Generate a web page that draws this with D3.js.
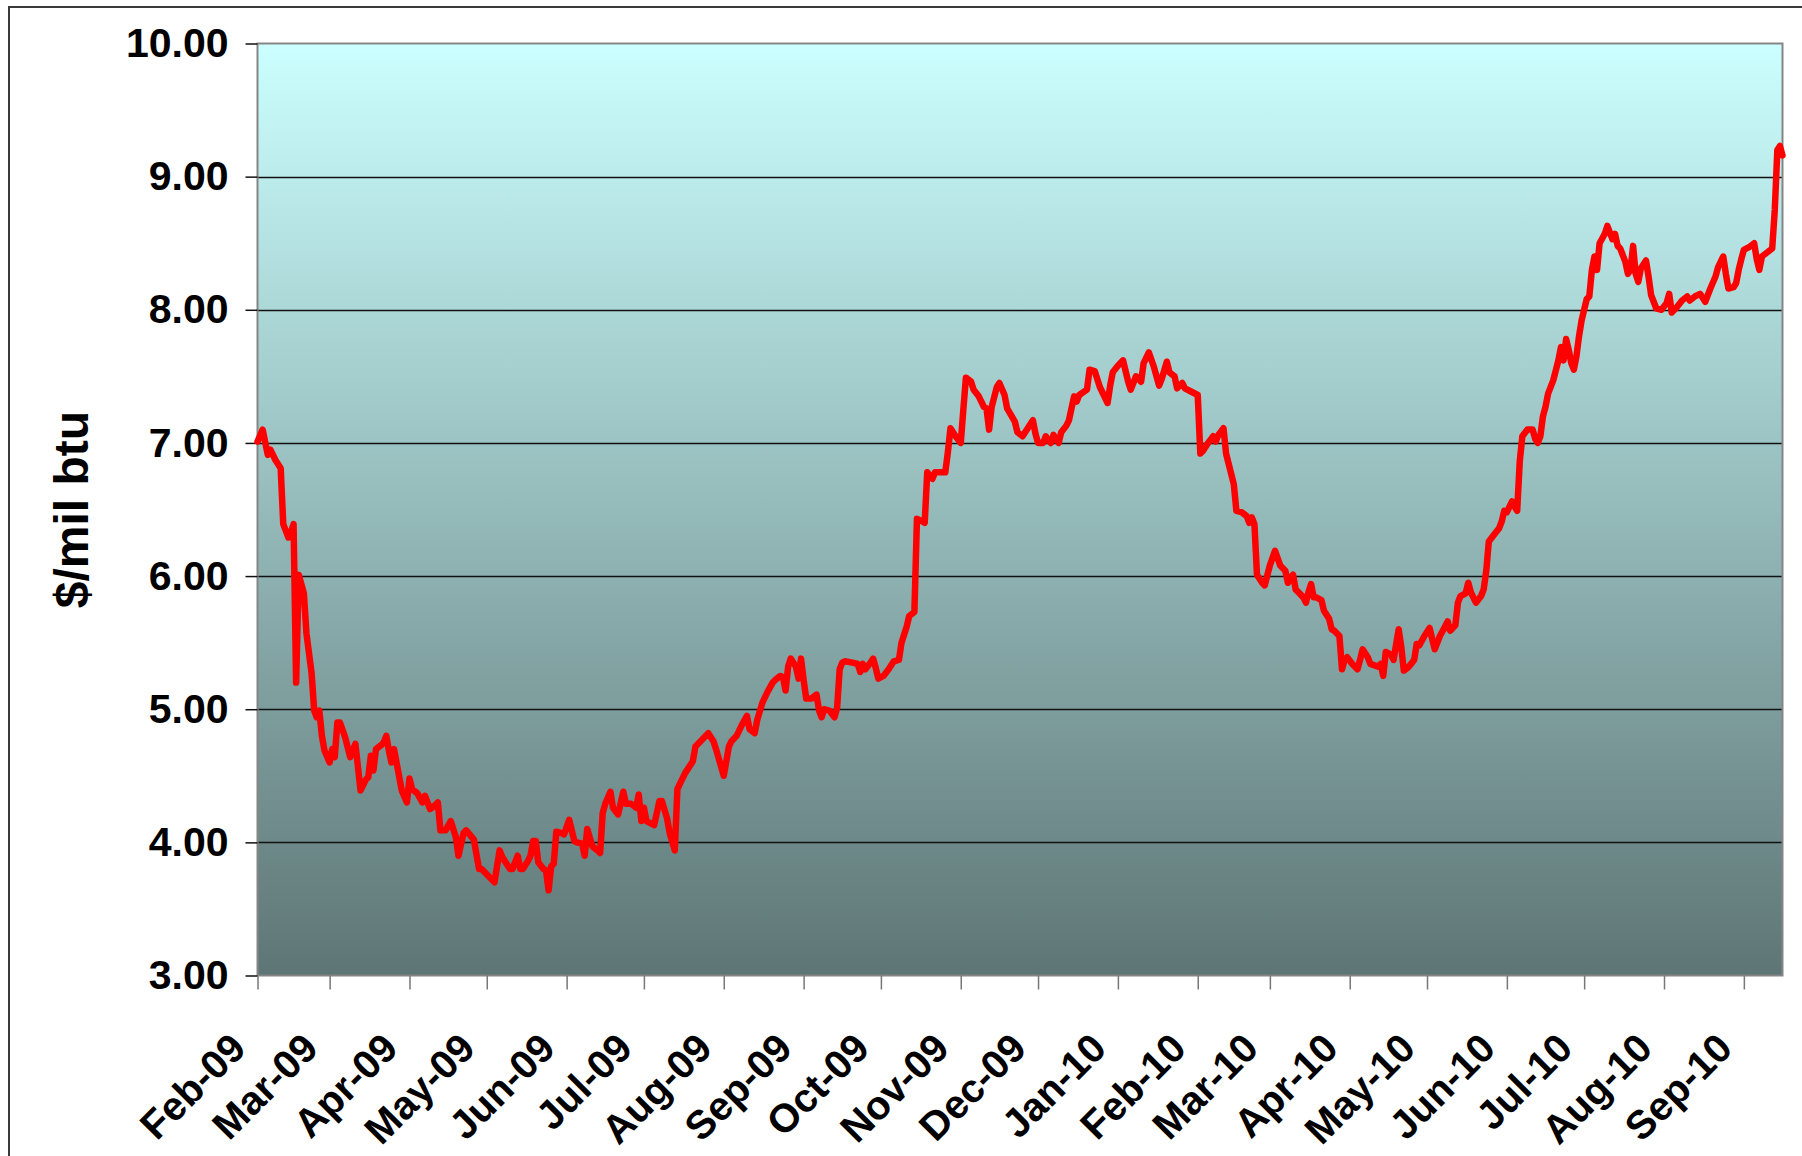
<!DOCTYPE html>
<html>
<head>
<meta charset="utf-8">
<script src="https://cdn.jsdelivr.net/npm/d3@7"></script>
<style>
  html, body { margin: 0; padding: 0; background: #ffffff; }
  svg { display: block; }
  text { font-family: "Liberation Sans", Arial, Helvetica, sans-serif; font-weight: bold; fill: #000; }
</style>
</head>
<body>
<svg id="chart" width="1802" height="1156"></svg>
<script>
// Daily price, $/mil btu
const priceDates = [
  "2009-02-01","2009-02-03","2009-02-05","2009-02-06","2009-02-08","2009-02-10","2009-02-11","2009-02-13","2009-02-14","2009-02-15",
  "2009-02-16","2009-02-17","2009-02-19","2009-02-20","2009-02-22","2009-02-23","2009-02-24","2009-02-25","2009-02-26","2009-02-27",
  "2009-03-01","2009-03-02","2009-03-03","2009-03-04","2009-03-05","2009-03-07","2009-03-09","2009-03-11","2009-03-13","2009-03-15",
  "2009-03-16","2009-03-17","2009-03-18","2009-03-19","2009-03-21","2009-03-22","2009-03-23","2009-03-24","2009-03-25","2009-03-26",
  "2009-03-29","2009-03-31","2009-04-01","2009-04-02","2009-04-04","2009-04-06","2009-04-07","2009-04-09","2009-04-11","2009-04-12",
  "2009-04-13","2009-04-15","2009-04-17","2009-04-19","2009-04-20","2009-04-22","2009-04-23","2009-04-26","2009-04-28","2009-04-29",
  "2009-05-02","2009-05-04","2009-05-06","2009-05-07","2009-05-10","2009-05-11","2009-05-13","2009-05-14","2009-05-15","2009-05-17",
  "2009-05-18","2009-05-19","2009-05-20","2009-05-21","2009-05-23","2009-05-24","2009-05-25","2009-05-26","2009-05-27","2009-05-28",
  "2009-05-30","2009-05-31","2009-06-02","2009-06-04","2009-06-05","2009-06-07","2009-06-08","2009-06-09","2009-06-11","2009-06-13",
  "2009-06-14","2009-06-15","2009-06-16","2009-06-18","2009-06-19","2009-06-21","2009-06-23","2009-06-24","2009-06-26","2009-06-28",
  "2009-06-29","2009-06-30","2009-07-01","2009-07-02","2009-07-05","2009-07-06","2009-07-07","2009-07-08","2009-07-10","2009-07-11",
  "2009-07-13","2009-07-14","2009-07-16","2009-07-17","2009-07-20","2009-07-21","2009-07-23","2009-07-24","2009-07-26","2009-07-28",
  "2009-07-29","2009-08-01","2009-08-03","2009-08-04","2009-08-06","2009-08-08","2009-08-10","2009-08-11","2009-08-13","2009-08-14",
  "2009-08-16","2009-08-18","2009-08-20","2009-08-21","2009-08-23","2009-08-24","2009-08-25","2009-08-26","2009-08-27","2009-08-29",
  "2009-08-30","2009-08-31","2009-09-01","2009-09-02","2009-09-04","2009-09-06","2009-09-07","2009-09-08","2009-09-09","2009-09-11",
  "2009-09-13","2009-09-14","2009-09-15","2009-09-16","2009-09-17","2009-09-20","2009-09-22","2009-09-23","2009-09-24","2009-09-25",
  "2009-09-27","2009-09-28","2009-09-29","2009-09-30","2009-10-02","2009-10-04","2009-10-06","2009-10-08","2009-10-09","2009-10-11",
  "2009-10-12","2009-10-14","2009-10-15","2009-10-17","2009-10-18","2009-10-19","2009-10-21","2009-10-22","2009-10-26","2009-10-27",
  "2009-10-28","2009-10-30","2009-11-01","2009-11-02","2009-11-03","2009-11-05","2009-11-06","2009-11-08","2009-11-10","2009-11-11",
  "2009-11-12","2009-11-13","2009-11-15","2009-11-16","2009-11-18","2009-11-19","2009-11-22","2009-11-23","2009-11-25","2009-11-27",
  "2009-11-29","2009-11-30","2009-12-01","2009-12-03","2009-12-04","2009-12-05","2009-12-06","2009-12-07","2009-12-09","2009-12-10",
  "2009-12-12","2009-12-13","2009-12-15","2009-12-16","2009-12-17","2009-12-20","2009-12-21","2009-12-23","2009-12-25","2009-12-28",
  "2009-12-29","2009-12-30","2010-01-01","2010-01-03","2010-01-05","2010-01-06","2010-01-08","2010-01-10","2010-01-11","2010-01-13",
  "2010-01-15","2010-01-17","2010-01-18","2010-01-20","2010-01-21","2010-01-23","2010-01-24","2010-01-26","2010-01-27","2010-01-29",
  "2010-02-01","2010-02-02","2010-02-03","2010-02-05","2010-02-07","2010-02-08","2010-02-09","2010-02-11","2010-02-12","2010-02-15",
  "2010-02-16","2010-02-18","2010-02-20","2010-02-21","2010-02-22","2010-02-23","2010-02-24","2010-02-26","2010-02-27","2010-03-01",
  "2010-03-03","2010-03-05","2010-03-07","2010-03-08","2010-03-09","2010-03-10","2010-03-11","2010-03-12","2010-03-14","2010-03-15",
  "2010-03-16","2010-03-17","2010-03-18","2010-03-19","2010-03-21","2010-03-22","2010-03-24","2010-03-25","2010-03-26","2010-03-28",
  "2010-03-29","2010-03-30","2010-03-31","2010-04-02","2010-04-04","2010-04-05","2010-04-06","2010-04-08","2010-04-09","2010-04-12",
  "2010-04-13","2010-04-14","2010-04-15","2010-04-17","2010-04-18","2010-04-20","2010-04-21","2010-04-22","2010-04-24","2010-04-26",
  "2010-04-27","2010-04-28","2010-04-30","2010-05-02","2010-05-03","2010-05-04","2010-05-06","2010-05-08","2010-05-09","2010-05-10",
  "2010-05-12","2010-05-13","2010-05-14","2010-05-16","2010-05-17","2010-05-18","2010-05-20","2010-05-22","2010-05-23","2010-05-24",
  "2010-05-25","2010-05-27","2010-05-29","2010-05-30","2010-05-31","2010-06-01","2010-06-03","2010-06-04","2010-06-05","2010-06-06",
  "2010-06-07","2010-06-09","2010-06-11","2010-06-12","2010-06-13","2010-06-14","2010-06-15","2010-06-16","2010-06-17","2010-06-19",
  "2010-06-21","2010-06-22","2010-06-23","2010-06-24","2010-06-25","2010-06-26","2010-06-27","2010-06-28","2010-06-29","2010-06-30",
  "2010-07-01","2010-07-02","2010-07-03","2010-07-04","2010-07-05","2010-07-06","2010-07-07","2010-07-09","2010-07-10","2010-07-12",
  "2010-07-13","2010-07-14","2010-07-15","2010-07-17","2010-07-18","2010-07-19","2010-07-20","2010-07-21","2010-07-22","2010-07-23",
  "2010-07-25","2010-07-26","2010-07-27","2010-07-28","2010-07-29","2010-07-31","2010-08-02","2010-08-03","2010-08-04","2010-08-06",
  "2010-08-08","2010-08-10","2010-08-11","2010-08-13","2010-08-15","2010-08-17","2010-08-19","2010-08-21","2010-08-22","2010-08-24",
  "2010-08-25","2010-08-26","2010-08-28","2010-08-29","2010-08-30","2010-08-31","2010-09-01","2010-09-03","2010-09-05","2010-09-06",
  "2010-09-07","2010-09-08","2010-09-10","2010-09-12","2010-09-13","2010-09-14","2010-09-15","2010-09-16"
];
const prices = [
  7.01,7.10,6.91,6.95,6.87,6.81,6.39,6.29,6.33,6.39,
  5.20,6.01,5.87,5.57,5.27,4.99,4.94,4.99,4.80,4.69,
  4.60,4.70,4.64,4.90,4.90,4.79,4.64,4.74,4.39,4.47,
  4.49,4.65,4.54,4.70,4.73,4.75,4.80,4.69,4.60,4.70,
  4.39,4.30,4.48,4.40,4.37,4.30,4.35,4.25,4.28,4.30,
  4.09,4.09,4.16,4.04,3.90,4.07,4.09,4.02,3.80,3.80,
  3.74,3.70,3.94,3.89,3.80,3.80,3.90,3.80,3.80,3.86,
  3.90,4.01,4.01,3.85,3.80,3.79,3.64,3.82,3.84,4.08,
  4.07,4.06,4.17,4.01,4.00,3.99,3.90,4.10,3.97,3.94,
  3.92,4.22,4.29,4.38,4.26,4.21,4.38,4.29,4.29,4.26,
  4.36,4.16,4.26,4.16,4.13,4.22,4.31,4.31,4.18,4.07,
  3.94,4.40,4.48,4.52,4.61,4.72,4.76,4.78,4.82,4.76,
  4.70,4.50,4.72,4.76,4.80,4.88,4.95,4.85,4.82,4.92,
  5.05,5.13,5.20,5.22,5.25,5.24,5.14,5.32,5.38,5.32,
  5.23,5.38,5.22,5.08,5.08,5.11,4.99,4.94,5.00,4.99,
  4.94,5.01,5.30,5.35,5.36,5.35,5.34,5.28,5.34,5.30,
  5.35,5.38,5.31,5.23,5.25,5.30,5.36,5.37,5.50,5.62,
  5.70,5.73,6.43,6.41,6.40,6.78,6.73,6.78,6.78,6.93,
  7.11,7.05,7.00,7.25,7.49,7.46,7.40,7.35,7.27,7.26,
  7.10,7.27,7.42,7.45,7.36,7.26,7.16,7.08,7.05,7.11,
  7.17,7.07,7.00,7.00,7.05,7.02,7.00,7.06,7.00,7.08,
  7.13,7.17,7.35,7.31,7.36,7.40,7.55,7.54,7.42,7.30,
  7.43,7.53,7.58,7.62,7.46,7.40,7.50,7.46,7.60,7.68,
  7.57,7.43,7.48,7.61,7.53,7.50,7.41,7.45,7.41,7.39,
  7.36,6.92,6.94,7.00,7.05,7.01,7.06,7.11,6.92,6.69,
  6.49,6.48,6.45,6.40,6.44,6.39,6.01,5.95,5.93,6.08,
  6.19,6.08,6.04,5.95,5.99,6.01,5.90,5.88,5.84,5.80,
  5.88,5.94,5.84,5.84,5.82,5.74,5.68,5.60,5.59,5.55,
  5.30,5.37,5.39,5.34,5.30,5.37,5.45,5.39,5.34,5.32,
  5.34,5.25,5.43,5.41,5.37,5.60,5.47,5.29,5.32,5.37,
  5.49,5.48,5.55,5.61,5.53,5.45,5.55,5.62,5.66,5.59,
  5.63,5.80,5.85,5.87,5.95,5.88,5.80,5.85,5.90,6.04,
  6.26,6.31,6.36,6.41,6.49,6.48,6.56,6.52,6.49,6.86,
  7.05,7.10,7.10,7.03,7.00,7.05,7.20,7.27,7.37,7.47,
  7.62,7.72,7.62,7.78,7.70,7.60,7.55,7.65,7.80,7.92,
  8.00,8.08,8.10,8.30,8.40,8.30,8.50,8.57,8.63,8.53,
  8.57,8.48,8.46,8.36,8.27,8.30,8.48,8.27,8.21,8.31,
  8.37,8.25,8.11,8.06,8.01,8.00,8.05,8.12,7.98,8.02,
  8.07,8.10,8.07,8.10,8.12,8.06,8.16,8.25,8.32,8.40,
  8.27,8.16,8.17,8.20,8.30,8.38,8.45,8.47,8.50,8.38,
  8.30,8.40,8.43,8.46,8.75,9.20,9.23,9.16
];
const axisStart = "2009-02-01";
const axisEnd = "2010-09-16";
const yTickValues = [3, 4, 5, 6, 7, 8, 9, 10];
const yAxisTitle = "$/mil btu";

const parse = d3.utcParse("%Y-%m-%d");
const series = priceDates.map((d, i) => ({ date: parse(d), value: prices[i] }));

const svg = d3.select("#chart");
const plot = { left: 257.5, right: 1782.5, top: 43.5, bottom: 975.5 };

const x = d3.scaleUtc()
  .domain([parse(axisStart), parse(axisEnd)])
  .range([plot.left, plot.right]);
const y = d3.scaleLinear()
  .domain([d3.min(yTickValues), d3.max(yTickValues)])
  .range([plot.bottom, plot.top]);

// Outer chart frame
svg.append("rect")
  .attr("x", 9).attr("y", 7)
  .attr("width", 1830).attr("height", 1180)
  .attr("fill", "none")
  .attr("stroke", "#3a3a3a")
  .attr("stroke-width", 2);

// Plot-area background gradient
const defs = svg.append("defs");
const grad = defs.append("linearGradient")
  .attr("id", "plotFill")
  .attr("x1", 0).attr("y1", 0).attr("x2", 0).attr("y2", 1);
grad.append("stop").attr("offset", "0%").attr("stop-color", "#ccffff");
grad.append("stop").attr("offset", "100%").attr("stop-color", "#5e7575");

svg.append("rect")
  .attr("x", plot.left).attr("y", plot.top)
  .attr("width", plot.right - plot.left)
  .attr("height", plot.bottom - plot.top)
  .attr("fill", "url(#plotFill)");

// Horizontal gridlines
svg.append("g")
  .selectAll("line")
  .data(yTickValues.filter(v => v > y.domain()[0] && v < y.domain()[1]))
  .join("line")
  .attr("x1", plot.left).attr("x2", plot.right)
  .attr("y1", d => Math.round(y(d)) + 0.5)
  .attr("y2", d => Math.round(y(d)) + 0.5)
  .attr("stroke", "#111")
  .attr("stroke-width", 1.3);

// Plot-area border
svg.append("rect")
  .attr("x", plot.left).attr("y", plot.top)
  .attr("width", plot.right - plot.left)
  .attr("height", plot.bottom - plot.top)
  .attr("fill", "none")
  .attr("stroke", "#858585")
  .attr("stroke-width", 2);

// Y axis
const yAxis = svg.append("g")
  .attr("transform", `translate(${plot.left},0)`)
  .call(d3.axisLeft(y)
    .tickValues(yTickValues)
    .tickFormat(d3.format(".2f"))
    .tickSize(12)
    .tickPadding(17));
yAxis.select(".domain").remove();
yAxis.selectAll(".tick line").attr("stroke", "#111").attr("stroke-width", 1.5);
yAxis.selectAll(".tick text")
  .attr("font-size", 41)
  .attr("font-family", "Liberation Sans, Arial, sans-serif")
  .attr("font-weight", "bold")
  .attr("fill", "#000");

// X axis: month ticks
const monthTicks = d3.utcMonth.range(parse(axisStart), x.domain()[1]);
const xAxis = svg.append("g")
  .attr("transform", `translate(0,${plot.bottom})`)
  .call(d3.axisBottom(x)
    .tickValues(monthTicks)
    .tickFormat(d3.utcFormat("%b-%y"))
    .tickSize(14));
xAxis.select(".domain").remove();
xAxis.selectAll(".tick line").attr("stroke", "#777").attr("stroke-width", 1.5);
xAxis.selectAll(".tick text")
  .attr("font-size", 40)
  .attr("font-family", "Liberation Sans, Arial, sans-serif")
  .attr("font-weight", "bold")
  .attr("fill", "#000")
  .attr("text-anchor", "end")
  .attr("dy", null)
  .attr("y", null)
  .attr("transform", "translate(-10,75) rotate(-45)");

// Y axis title
svg.append("text")
  .attr("transform", `translate(88,${(plot.top + plot.bottom) / 2}) rotate(-90)`)
  .attr("text-anchor", "middle")
  .attr("font-size", 48)
  .text(yAxisTitle);

// Price line
svg.append("path")
  .datum(series)
  .attr("fill", "none")
  .attr("stroke", "#ff0000")
  .attr("stroke-width", 6.5)
  .attr("stroke-linejoin", "round")
  .attr("stroke-linecap", "round")
  .attr("d", d3.line().x(d => x(d.date)).y(d => y(d.value)));
</script>
</body>
</html>
